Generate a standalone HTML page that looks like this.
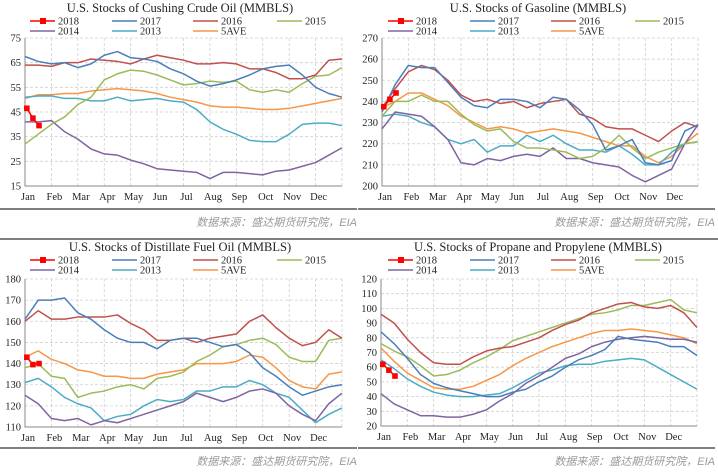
<!DOCTYPE html>
<html><head><meta charset="utf-8">
<style>
html,body{margin:0;padding:0;background:#fff;}
svg{display:block;font-family:"Liberation Serif","Noto Serif CJK SC",serif;}
.src{font-family:"Liberation Sans","Noto Sans CJK SC",sans-serif;font-style:italic;fill:#9a9a9a;font-size:11px;}
</style></head>
<body>
<svg id="chart" width="718" height="476" viewBox="0 0 718 476" xmlns="http://www.w3.org/2000/svg"></svg>
<script>
const months=["Jan","Feb","Mar","Apr","May","Jun","Jul","Aug","Sep","Oct","Nov","Dec"];
const seriesNames=["2018","2017","2016","2015","2014","2013","5AVE"];
// Cushing
const cushTicks=[15,25,35,45,55,65,75];
const cush2018=[46.5,42.5,39.5];
const cush2017=[67.5,65.5,64.5,65,63,64.5,68,69.5,67,66.5,65.5,62.5,60.5,57.5,55.5,56.5,58,60,62.5,63.5,64,60,55,52.5,51];
const cush2016=[64,64,63.5,65,65,66.5,66,65.5,64.5,66.5,68,67,66,64.5,64.5,65,64.5,62.5,62.5,61,58.5,58.5,60,66,66.5];
const cush2015=[32,36,40,43,48,51,58,60.5,62,61.5,60,58,56,56.5,57.5,57,57.5,54,53,54,53,56.5,59.5,60,63];
const cush2014=[41,41,41.5,37,34,30,28,27.5,25.5,24,22,21.5,21,20.5,18,20.5,20.5,20,19.5,21,21.5,23,24.5,27.5,30.5];
const cush2013=[51,51.5,51.5,50.5,50.5,49.5,49.5,51,49.5,50,50.5,49.5,49,46,41,38,36,33.5,33,33,36,40,40.5,40.5,39.5];
const cushAve=[50.5,52,52,52.5,52.5,53.5,54,54.5,54,53.5,52.5,51,50,49,47.5,47,47,46.5,46,46,46.5,47.5,48.5,49.5,50.5];
// Gasoline
const gasTicks=[200,210,220,230,240,250,260,270];
const gas2018=[237.5,241,244];
const gas2017=[235,248,257,256,256,249,242,238,237,241,241,240,237,242,241,236,229,217,219,222,211,210,212,226,229];
const gas2016=[237,246,254,257,255,250,243,240,241,239,240,237,239,240,241,234,232,228,227,227,224,221,226,230,228];
const gas2015=[233,240,240,243,240,240,234,229,226,227,221,218,218,217,216,213,214,218,224,218,213,216,218,220,221];
const gas2014=[227,235,234,233,228,222,211,210,213,212,214,215,214,218,213,213,211,210,209,205,202,205,208,220,229];
const gas2013=[233,234,233,230,228,222,220,222,216,219,219,224,221,224,220,217,217,216,219,215,210,210,216,220,221];
const gasAve=[237,240,244,244,241,238,233,230,227,228,227,225,226,227,226,225,223,221,219,219,214,211,214,220,225];
// Distillate
const disTicks=[110,120,130,140,150,160,170,180];
const dis2018=[143,139.5,140];
const dis2017=[161,170,170,171,164,161,156,152,150,150,147,151,152,152,150,148,149,145,138,134,129,125,127,129,130];
const dis2016=[160,165,161,161,162,162,162,163,159,156,151,151,152,150,152,153,154,160,163,157,152,148.5,150,156,152];
const dis2015=[138,140,134,133,124,126,127,129,130,128,133,134,136,141,144,148,149,151,152,149,143,141,141,151,152];
const dis2014=[125,121,114,113,114,111,113,112,114,116,118,120,122,126,124,122,124,127,128,126,120,116,113,121,126];
const dis2013=[131,133,129,124,121,119,113,115,116,120,123,122,123,127,127,129,129,132,130,126,124,118,112,116,119];
const disAve=[143,146,142,140,137,136,134,134,133,133,135,136,137,140,140,140,141,144,143,138,132,129,128,135,136];
// Propane
const proTicks=[20,30,40,50,60,70,80,90,100,110,120];
const pro2018=[62,58,54];
const pro2017=[84,76,66,55,49,46,44,42,40,40,43,45,50,54,60,65,68,72,81,79,78,77,74,74,68];
const pro2016=[96,90,79,70,63,62,62,67,71,73,74,77,80,85,89,92,97,100,103,104,101,100,102,97,87];
const pro2015=[76,71,67,61,54,55,58,63,67,72,78,81,84,87,90,93,96,97,99,102,102,104,106,99,97];
const pro2014=[42,35,31,27,27,26,26,28,31,37,42,49,54,60,66,69,74,77,79,80,81,80,79,79,77];
const pro2013=[65,59,52,47,43,41,40,40,41,42,46,51,56,58,61,62,62,64,65,66,65,60,55,50,45];
const proAve=[73,64,56,51,46,45,45,47,51,55,61,66,70,74,77,80,83,85,85,86,85,84,82,80,76];

const NS="http://www.w3.org/2000/svg";
const svg=document.getElementById("chart");
const colors=["#ff0000","#4a7ebb","#c0504d","#9bbb59","#8064a2","#4bacc6","#f79646"];
function mk(tag,attrs,parent){const e=document.createElementNS(NS,tag);for(const k in attrs)e.setAttribute(k,attrs[k]);(parent||svg).appendChild(e);return e;}

function panel(cfg){
  const g=mk("g",{});
  
  
  const {x0,x1,yT,yB,ticks}=cfg;
  const mn=ticks[0],mx=ticks[ticks.length-1];
  const sy=v=>yB-(v-mn)/(mx-mn)*(yB-yT);
  const sx=i=>x0+i/24*(x1-x0);
  const sw=w=>x0+(w+0.3)/52*(x1-x0);
  // grid
  ticks.forEach((t,i)=>{
    if(i>0){const l=mk("line",{x1:x0,x2:x1,y1:sy(t),y2:sy(t),stroke:"#cfcfcf","stroke-width":0.8,"stroke-dasharray":"3,2"},g);
    
    }
    const tx=mk("text",{x:x0-4,y:sy(t)+3.5,"text-anchor":"end","font-size":"10.5",fill:"#222"},g);tx.textContent=t;
    
    
  });
  months.forEach((m,i)=>{
    const x=x0+i/12*(x1-x0);
    if(i>0){const l=mk("line",{x1:x,x2:x,y1:yT,y2:yB,stroke:"#cfcfcf","stroke-width":0.8,"stroke-dasharray":"3,2"},g);
    
    }
    const tx=mk("text",{x:x+3,y:yB+14,"text-anchor":"middle","font-size":"10.5",fill:"#222"},g);tx.textContent=m;
    
    
  });
  mk("line",{x1:x1,x2:x1,y1:yT,y2:yB,stroke:"#cfcfcf","stroke-width":0.8,"stroke-dasharray":"3,2"},g);
  const ax=mk("path",{d:`M${x0} ${yT}V${yB}H${x1}`,stroke:"#888",fill:"none","stroke-width":1},g);
  
  
  // series
  const order=[6,5,4,3,2,1];
  order.forEach(k=>{
    const d=cfg.data[k];
    const p=mk("polyline",{points:d.map((v,i)=>sx(i)+","+sy(v)).join(" "),fill:"none",stroke:colors[k],"stroke-width":1.5,"stroke-linejoin":"round"},g);
    
    
  });
  const d18=cfg.data[0];
  const p18=mk("polyline",{points:d18.map((v,i)=>sw(i)+","+sy(v)).join(" "),fill:"none",stroke:colors[0],"stroke-width":1.5},g);
  
  
  d18.forEach((v,i)=>{
    const r=mk("rect",{x:sw(i)-2.8,y:sy(v)-2.8,width:5.6,height:5.6,fill:colors[0]},g);
    
    
  });
  // title
  const t=mk("text",{x:cfg.ox+180,y:cfg.oy+cfg.ty,"text-anchor":"middle","font-size":"12.5",fill:"#222"},g);t.textContent=cfg.title;
  
  
  // legend
  const lx=[30,112,193,277];
  seriesNames.forEach((n,k)=>{
    const row=k<4?0:1, col=k<4?k:k-4;
    const y=cfg.oy+cfg.ty+12+row*10;
    const x=cfg.ox+lx[col];
    const lg=mk("g",{},g);
    
    
    mk("line",{x1:x,x2:x+25,y1:y-3,y2:y-3,stroke:colors[k],"stroke-width":1.6},lg);
    if(k===0)mk("rect",{x:x+10,y:y-6,width:6,height:6,fill:colors[0]},lg);
    const tx=mk("text",{x:x+28,y:y+0.5,"font-size":"10.5",fill:"#222"},lg);tx.textContent=n;
  });
  // separator + source
  const s=mk("line",{x1:cfg.ox,x2:cfg.ox+357,y1:cfg.sepY,y2:cfg.sepY,stroke:"#555","stroke-width":1.6},g);
  
  
  const src=mk("text",{x:cfg.ox+357,y:cfg.sepY+17,"text-anchor":"end",class:"src"},g);src.textContent="数据来源：盛达期货研究院，EIA";
  
  
}
mk("line",{x1:0,x2:718,y1:239,y2:239,stroke:"#555","stroke-width":1.6});
panel({name:"cushing-crude-chart",title:"U.S.  Stocks of Cushing  Crude Oil (MMBLS)",ox:0,oy:0,ty:12,x0:25,x1:342,yT:38,yB:186,ticks:cushTicks,sepY:209,
  data:[cush2018,cush2017,cush2016,cush2015,cush2014,cush2013,cushAve]});
panel({name:"gasoline-chart",title:"U.S.  Stocks of  Gasoline (MMBLS)",ox:358,oy:0,ty:12,x0:382,x1:698,yT:38,yB:186,ticks:gasTicks,sepY:209,
  data:[gas2018,gas2017,gas2016,gas2015,gas2014,gas2013,gasAve]});
panel({name:"distillate-chart",title:"U.S.  Stocks of Distillate  Fuel Oil (MMBLS)",ox:0,oy:236,ty:15,x0:25,x1:342,yT:279,yB:427,ticks:disTicks,sepY:448,
  data:[dis2018,dis2017,dis2016,dis2015,dis2014,dis2013,disAve]});
panel({name:"propane-chart",title:"U.S.  Stocks of Propane and Propylene (MMBLS)",ox:358,oy:236,ty:15,x0:381,x1:697,yT:279,yB:426,ticks:proTicks,sepY:448,
  data:[pro2018,pro2017,pro2016,pro2015,pro2014,pro2013,proAve]});
</script>
</body></html>
